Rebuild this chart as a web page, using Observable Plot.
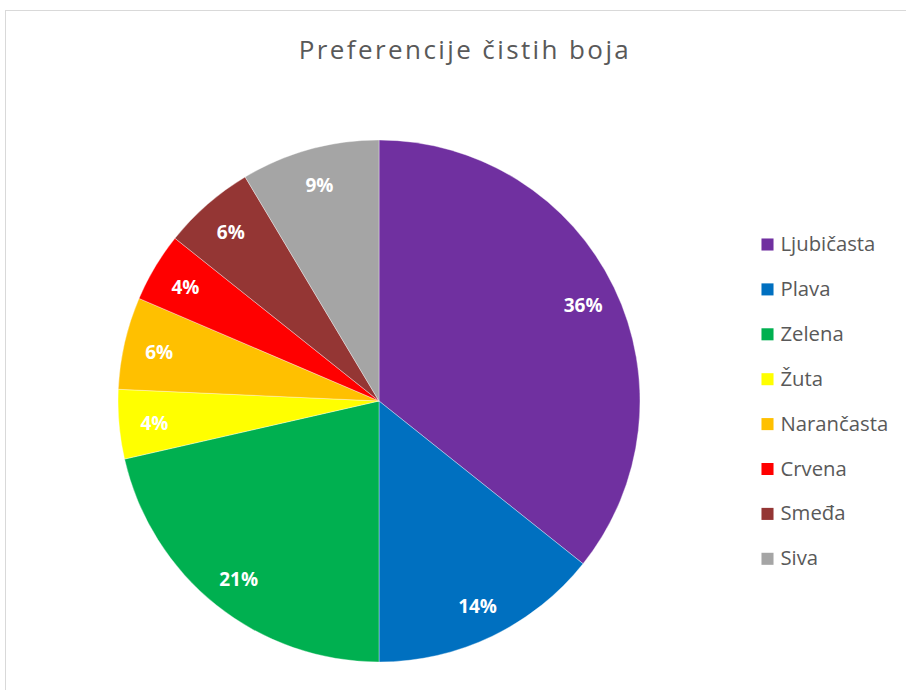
<!DOCTYPE html>
<html>
<head>
<meta charset="utf-8">
<script src="https://cdn.jsdelivr.net/npm/d3@7"></script>
<script src="https://cdn.jsdelivr.net/npm/@observablehq/plot@0.6"></script>
<style>
  html, body { margin: 0; padding: 0; background: #fff; }
  #wrap { position: relative; width: 906px; height: 690px; overflow: hidden; }
  #frame { position: absolute; left: 5px; top: 10px; width: 1000px; height: 1000px;
           border-left: 1.5px solid #d9d9d9; border-top: 1.5px solid #d9d9d9; box-sizing: border-box; }
  #chart { position: absolute; left: 0; top: 0; }
</style>
</head>
<body>
<div id="wrap"><div id="frame"></div><div id="chart"></div></div>
<script>
// ---- data ----
const title = "Preferencije čistih boja";
const categories = ["Ljubičasta", "Plava", "Zelena", "Žuta", "Narančasta", "Crvena", "Smeđa", "Siva"];
const counts = [25, 10, 15, 3, 4, 3, 4, 6];
const colors = ["#7030A0", "#0070C0", "#00B050", "#FFFF00", "#FFC000", "#FF0000", "#943634", "#A5A5A5"];

// ---- layout ----
const W = 906, H = 690;
const CX = 379, CY = 401, R = 261, LABEL_R = 226;
const total = d3.sum(counts);
const rows = categories.map((name, i) => ({name, value: counts[i], i}));
const arcs = d3.pie().sort(null).value(d => d.value).startAngle(0)(rows);
const arcGen = d3.arc().innerRadius(0).outerRadius(R);
const labelArc = d3.arc().innerRadius(LABEL_R).outerRadius(LABEL_R);
const labels = arcs.map(a => {
  const [lx, ly] = labelArc.centroid(a);
  return {x: CX + lx, y: CY + ly + 2, text: Math.round(a.data.value / total * 100) + "%", name: a.data.name};
});
const legend = categories.map((name, i) => ({name, x: 767, tx: 780, y: 244 + i * 44.9}));

const fallback = d3.scaleOrdinal(categories, colors);

function pieMark(index, scales) {
  const color = scales && scales.color ? scales.color : fallback;
  const g = d3.create("svg:g").attr("transform", `translate(${scales.x(CX)},${scales.y(CY)})`);
  g.selectAll("path").data(arcs).join("path")
    .attr("d", arcGen)
    .attr("fill", d => color(d.data.name))
    .attr("stroke", "#ffffff")
    .attr("stroke-width", 0.6)
    .attr("stroke-opacity", 0.6);
  return g.node();
}

const chart = Plot.plot({
  width: W,
  height: H,
  margin: 0,
  x: {domain: [0, W], range: [0, W], axis: null},
  y: {domain: [0, H], range: [0, H], axis: null},
  color: {domain: categories, range: colors},
  style: {background: "transparent", fontFamily: "'Open Sans', sans-serif"},
  marks: [
    pieMark,
    Plot.text(labels, {x: "x", y: "y", text: "text", fill: "#ffffff", fontWeight: "bold", fontSize: 19, fontFamily: "'Open Sans', sans-serif"}),
    Plot.dot(legend, {x: "x", y: "y", symbol: "square", r: 6.8, fill: "name", stroke: null}),
    Plot.text(legend, {x: "tx", y: "y", text: "name", textAnchor: "start", fill: "#595959", fontSize: 20.3, fontFamily: "'Open Sans', sans-serif"}),
    Plot.text([title], {x: [464.5], y: [50], text: d => d, fill: "#595959", fontSize: 26, fontFamily: "'Open Sans', sans-serif"})
  ]
});
d3.select(chart).selectAll("text")
  .filter(function () { return this.textContent === title; })
  .attr("letter-spacing", "2.4px");
document.getElementById("chart").appendChild(chart);
</script>
</body>
</html>
